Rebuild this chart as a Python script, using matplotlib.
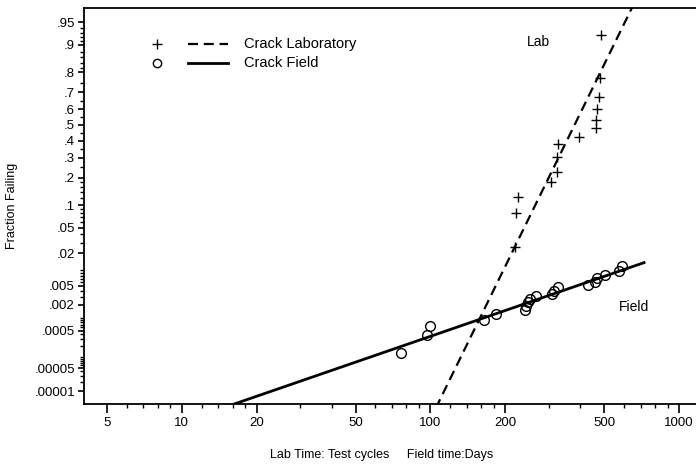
from statistics import NormalDist
import numpy as np
import matplotlib
matplotlib.use('Agg')
import matplotlib.pyplot as plt
from matplotlib.ticker import NullFormatter

plt.rcParams['font.family'] = ['Liberation Sans', 'DejaVu Sans']

## Data (time, fraction failing)
lab_t = [484, 481, 475, 468, 462, 462, 397, 325, 323, 322, 305, 225, 221, 218]
lab_F = [0.925, 0.772, 0.675, 0.601, 0.532, 0.479, 0.426, 0.379, 0.306,
         0.228, 0.180, 0.126, 0.0788, 0.0258]

field_t = [75.9, 97.3, 100, 164.6, 183, 239.5, 241.8, 246.4, 250.5, 265.8,
           307.5, 313, 326.8, 431.5, 459, 466.6, 503.8, 573.6, 587.5]
field_F = [1.30e-4, 3.97e-4, 6.5e-4, 9.0e-4, 1.23e-3, 1.54e-3, 1.86e-3,
           2.29e-3, 2.64e-3, 3.05e-3, 3.37e-3, 3.92e-3, 4.66e-3, 5.23e-3,
           6.09e-3, 7.08e-3, 8.2e-3, 9.88e-3, 0.01194]

# fitted lognormal lines, end points
lab_fit_t = [105, 680]
lab_fit_F = [2.9e-6, 0.980]
field_fit_t = [15, 723]
field_fit_F = [3.2e-6, 0.0138]

y_ticks = [.95, .9, .8, .7, .6, .5, .4, .3, .2, .1, .05, .02, .005, .002,
           .0005, .00005, .00001]
y_labels = ['.95', '.9', '.8', '.7', '.6', '.5', '.4', '.3', '.2', '.1',
            '.05', '.02', '.005', '.002', '.0005', '.00005', '.00001']
y_minor = [.94, .93, .92, .91, .88, .86, .84, .82, .75, .65, .55, .45, .35,
           .25, .18, .16, .14, .12, .09, .08, .07, .06, .04, .03, .01, .009,
           .008, .007, .006, .004, .003, .001, .0009, .0008, .0007, .0006,
           .0004, .0003, .0002, .0001, .00009, .00008, .00007, .00006,
           .00004, .00003, .00002]
x_ticks = [5, 10, 20, 50, 100, 200, 500, 1000]
x_labels = ['5', '10', '20', '50', '100', '200', '500', '1000']
x_minor = [6, 7, 8, 9, 12, 14, 16, 18, 30, 40, 60, 70, 80, 90,
           120, 140, 160, 180, 300, 400, 600, 700, 800, 900]

## normal probability scale
nd = NormalDist()
_ppf = np.vectorize(nd.inv_cdf, otypes=[float])
_cdf = np.vectorize(nd.cdf, otypes=[float])

def fwd(p):
    p = np.clip(np.asarray(p, dtype=float), 1e-12, 1 - 1e-12)
    return _ppf(p)

def inv(z):
    return _cdf(np.asarray(z, dtype=float))

fig = plt.figure(figsize=(6.96, 4.72), dpi=100)
ax = fig.add_axes([84/696, 1 - 404/472, 1 - 84/696, (404 - 8)/472])
ax.set_xscale('log')
ax.set_yscale('function', functions=(fwd, inv))

ax.plot(lab_t, lab_F, '+', color='k', ms=7, mew=1.0)
ax.plot(field_t, field_F, 'o', mfc='none', mec='k', ms=7, mew=1.0)
ax.plot(lab_fit_t, lab_fit_F, color='k', lw=1.6, dashes=(4.5, 2.6))
ax.plot(field_fit_t, field_fit_F, color='k', lw=2.0)

ax.set_xlim(4.04, 1170)
ax.set_ylim(4.0e-6, 0.9694)

ax.set_yticks(y_ticks)
ax.set_yticklabels(y_labels)
ax.set_yticks(y_minor, minor=True)
ax.set_xticks(x_ticks)
ax.set_xticklabels(x_labels)
ax.set_xticks(x_minor, minor=True)
ax.xaxis.set_minor_formatter(NullFormatter())
ax.yaxis.set_minor_formatter(NullFormatter())
ax.tick_params(which='major', direction='out', width=1.2, labelsize=9.5)
ax.tick_params(axis='y', which='major', length=4.5, pad=2)
ax.tick_params(axis='x', which='major', length=6.3, pad=3)
ax.tick_params(which='minor', direction='out', length=3, width=1.0)

for s in ['top', 'left', 'bottom']:
    ax.spines[s].set_linewidth(1.3)
ax.spines['right'].set_visible(False)

ax.set_ylabel('Fraction Failing', fontsize=9)
ax.yaxis.set_label_coords(-0.108, 0.5)
ax.set_xlabel('Lab Time: Test cycles     Field time:Days', fontsize=9)
ax.xaxis.set_label_coords(0.487, -0.114)

ax.text(271, 0.908, 'Lab', fontsize=10, ha='center', va='center')
ax.text(659, 0.00182, 'Field', fontsize=10, ha='center', va='center')

# legend
tr = ax.transAxes
ax.plot([0.1188], [0.909], '+', color='k', ms=7, mew=1.0, transform=tr)
ax.plot([0.1188], [0.862], 'o', mfc='none', mec='k', ms=6, mew=1.0, transform=tr)
ax.plot([0.1703, 0.2353], [0.909, 0.909], color='k', lw=1.6,
        dashes=(4.5, 2.6), transform=tr)
ax.plot([0.1703, 0.2353], [0.862, 0.862], color='k', lw=2.0, transform=tr)
ax.text(0.2614, 0.909, 'Crack Laboratory', fontsize=10.5, va='center', transform=tr)
ax.text(0.2614, 0.862, 'Crack Field', fontsize=10.5, va='center', transform=tr)

fig.savefig('out.png', dpi=100)
